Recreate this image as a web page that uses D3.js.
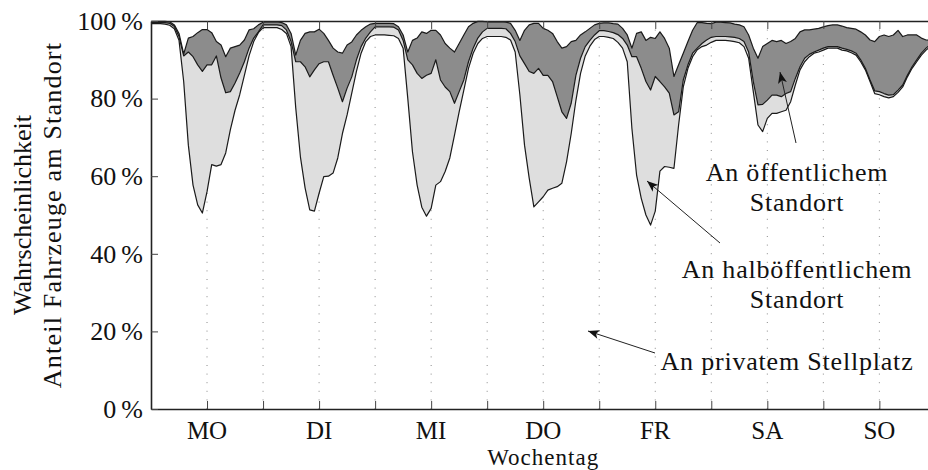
<!DOCTYPE html>
<html><head><meta charset="utf-8">
<script src="https://cdn.jsdelivr.net/npm/d3@7"></script>
<style>
html,body{margin:0;padding:0;background:#fff;}
svg{display:block;}
text{font-family:"Liberation Serif","Times New Roman",serif;fill:#111;}
</style></head><body>
<svg id="chart" width="928" height="470"></svg>
<script>
// Wochentage (Beschriftung jeweils 12 Uhr)
const tage = ["MO","DI","MI","DO","FR","SA","SO"];
const yTickWerte = [0,20,40,60,80,100];
// Stunde der Woche 0..168
const stunden = d3.range(0,169);
// kumulierte Anteile in % (Obergrenze der jeweiligen Schicht)
const privat = [
 99.3,99.3,99.3,99.2,98.9,98,95,84.4,68,57.7,52.6,50.5,56,63,62.6,63,66,72,77,81,86,91,94.7,97,98.3,
 98.3,98.3,98.3,97.8,96.8,93.4,77.6,65,57,51.3,51,55.6,59.9,60,60.8,64.7,71,75.8,81.4,87,91.7,94.7,96,96.4,
 96.4,96.4,96.3,96.2,95.5,93,80,66.3,57.7,52,49.7,51.7,57.7,58.6,61.2,64.7,70.6,76.6,82.2,87.8,91.7,94.2,95.5,96,
 96,96,96,95.8,95.1,92,81,68,59.5,52.1,53.4,54.7,56.4,56.9,57.3,58.2,63.7,71,79.5,86.5,91,93.5,95.2,96,
 96,95.8,95.5,94.5,93,89.5,72.3,60.3,54.3,50,47.4,51,61.3,62.5,62.3,62,73.2,83,87.8,90.8,92.6,93.4,93.8,94.5,
 95,95,95,94.9,94.7,94.4,93.4,90.4,81.8,73.2,71.5,74.9,76.2,76.2,76.6,77,79.2,83.5,87.4,89.5,90.8,91.7,92,92.5,
 93,93,93,92.5,92.3,91.8,91.2,89.5,87.4,84.4,81.3,81,80.5,80.2,80.5,81.6,83,85.6,87.8,89.5,91.2,92.5,93.5,94
];
const halboeffentlich = [
 99.6,99.6,99.6,99.6,99.4,98.6,96,91,92,90.8,88.7,87,88.7,88.7,91,85.3,81.5,81.8,84,86.6,89.5,93,95.6,97.2,99,
 99,99,99,98.8,97.7,94.7,89.5,89.5,88.2,85.6,87.4,89,89.5,89.5,86,82.7,79.2,82.7,85.6,90,93.4,95.6,97.2,98.5,
 98.5,98.5,98.5,98.4,97.7,95,90,88.7,86.5,85.2,86,86.5,90,84.8,83,81.8,78.8,81.8,84.8,89.5,93,95.6,97.2,98.1,
 98.1,98.1,98.1,98,96.8,94.7,91,89,87,86.5,87.8,86,86,84.4,80.5,76.6,74.9,78.8,86,90.4,93.4,95,96.4,97.5,
 97.5,97.3,97,96.5,95.5,93.8,90.8,90.8,87.8,84.4,82.2,85.7,84.4,83,81.4,75.8,76.6,84.8,88.7,91.7,93,94.2,95.1,95.8,
 96,96,96,95.9,95.8,95.5,94.7,92,84.4,78.4,78.5,79.6,80.9,80.9,80.5,81.3,81.8,85.2,88.2,90.4,91.4,92,92.5,93,
 93.4,93.4,93.4,93,92.7,92.3,91.7,90,87.8,84.8,82,81.8,81.3,80.9,81,82.2,83.5,86,88.2,90,91.7,93,94,94.5
];
const oeffentlich = [
 99.9,99.9,99.9,99.9,99.8,99,96.8,91.5,95.6,96,97,97.8,97.8,97,94.7,93.8,90.8,93,93.4,93.8,95.1,97.7,98,99,99.7,
 99.8,99.8,99.8,99.6,99,96.8,91.2,95,96.8,97.2,97.2,97.9,96.8,95,93,92,91.7,93.8,94.6,96.4,97.6,98.5,99.2,99.4,
 99.4,99.4,99.4,99.3,98.5,96.4,92,95,95.6,97.2,96.8,97.6,97.6,96.4,94.2,93,92,94.2,96.4,98.5,99.4,99.9,99.9,99.8,
 99.8,99.8,99.8,99.7,99.4,97.6,95,97.6,99,99.4,99.4,98.1,97.6,96.8,94.7,93,93.4,94.7,95,96.4,97.2,98.1,99,99.4,
 99.5,99.5,99.3,99.2,98.1,96.4,93,96.8,97.2,95,95.8,95.5,97.2,95.5,93,85.7,88.7,91.7,94.7,97.6,99.6,99.6,99.4,99.3,
 99.7,99.7,99.6,99.5,99.2,99,98.5,96.4,93,90.4,93.4,94.2,95,94.7,95,94.2,94.7,95.5,97.2,97.7,97.7,97.9,98.1,98.5,
 98.8,99,99,98.7,98.3,98.1,97.9,97.2,96.4,95.1,94.7,96,96.4,96,96.4,97.6,96,96.4,96.4,96.4,95.6,95.1,95,95
];

const svg = d3.select("#chart");
const x = d3.scaleLinear().domain([0,168]).range([151,935.4]);
const y = d3.scaleLinear().domain([0,100]).range([409,21]);
const tagScale = d3.scaleBand().domain(tage).range([151,935.4]);

const daten = stunden.map((h,i)=>({h, p:privat[i], hb:halboeffentlich[i], oe:oeffentlich[i]}));

// Raster (gepunktet, alle 12 Stunden)
svg.append("g").selectAll("line").data(d3.range(12,168,12)).join("line")
  .attr("x1",d=>x(d)).attr("x2",d=>x(d)).attr("y1",y(0)).attr("y2",y(100))
  .attr("stroke","#8a8a8a").attr("stroke-width",1).attr("stroke-dasharray","1,7.6");

// Flächen
svg.append("path").datum(daten)
  .attr("d",d3.area().x(d=>x(d.h)).y0(d=>y(d.p)).y1(d=>y(d.hb)))
  .attr("fill","#dedede");
svg.append("path").datum(daten)
  .attr("d",d3.area().x(d=>x(d.h)).y0(d=>y(d.hb)).y1(d=>y(d.oe)))
  .attr("fill","#8c8c8c");
["p","hb","oe"].forEach(k=>{
  svg.append("path").datum(daten)
    .attr("d",d3.line().x(d=>x(d.h)).y(d=>y(d[k])))
    .attr("fill","none").attr("stroke","#1a1a1a").attr("stroke-width",1.2).attr("stroke-linejoin","round");
});

// Achsen
const stundenTicks = d3.range(0,169,12);
const ax = svg.append("g");
ax.append("g").attr("transform",`translate(0,${y(0)})`)
  .call(d3.axisBottom(x).tickValues(stundenTicks).tickSize(-8).tickSizeOuter(0).tickFormat(""));
ax.append("g").attr("transform",`translate(0,${y(100)})`)
  .call(d3.axisTop(x).tickValues(stundenTicks).tickSize(-8).tickSizeOuter(0).tickFormat(""));
ax.append("g").attr("transform",`translate(${x(0)},0)`)
  .call(d3.axisLeft(y).tickValues(yTickWerte).tickSize(-7).tickSizeOuter(0).tickPadding(8)
    .tickFormat(d=>d+"\u2009%"));
ax.append("g").attr("transform",`translate(${x(168)},0)`)
  .call(d3.axisRight(y).tickValues(yTickWerte).tickSize(-7).tickSizeOuter(0).tickFormat(""));
ax.selectAll(".domain").attr("stroke","#222").attr("stroke-width",1.6);
ax.selectAll(".tick line").attr("stroke","#444").attr("stroke-width",1);
ax.selectAll(".tick text").attr("font-size",26).attr("font-family","Liberation Serif").attr("fill","#111");

// Tag-Beschriftungen
const tg = svg.append("g").attr("transform",`translate(0,${y(0)})`)
  .call(d3.axisBottom(tagScale).tickSize(0).tickPadding(0));
tg.select(".domain").remove();
tg.selectAll("text").attr("y",30).attr("dy",0).attr("font-size",25).attr("font-family","Liberation Serif").attr("fill","#111");

svg.append("text").attr("x",(x(0)+x(168))/2).attr("y",465).attr("text-anchor","middle")
  .attr("font-size",23).attr("letter-spacing",1).text("Wochentag");

// y-Titel
const yt = svg.append("text").attr("transform",`translate(0,${(y(0)+y(100))/2}) rotate(-90)`)
  .attr("text-anchor","middle").attr("font-size",26);
yt.append("tspan").attr("x",0).attr("y",31).text("Wahrscheinlichkeit");
yt.append("tspan").attr("x",0).attr("y",61).attr("letter-spacing",1.2).text("Anteil Fahrzeuge am Standort");

// Pfeile
svg.append("defs").append("marker").attr("id","pfeil").attr("viewBox","0 0 10 8")
  .attr("refX",10).attr("refY",4).attr("markerWidth",12).attr("markerHeight",9)
  .attr("markerUnits","userSpaceOnUse").attr("orient","auto")
  .append("path").attr("d","M0,0 L10,4 L0,8 L2.5,4 Z").attr("fill","#111");

const anmerkungen = [
  {zeilen:["An öffentlichem","Standort"], tx:797, ty:181, von:[796,143], nach:[780,72]},
  {zeilen:["An halböffentlichem","Standort"], tx:797, ty:278, von:[720,243], nach:[647,181]},
  {zeilen:["An privatem Stellplatz"], tx:787, ty:370, von:[655,353], nach:[588,331]}
];
anmerkungen.forEach(a=>{
  svg.append("line").attr("x1",a.von[0]).attr("y1",a.von[1]).attr("x2",a.nach[0]).attr("y2",a.nach[1])
    .attr("stroke","#222").attr("stroke-width",1).attr("marker-end","url(#pfeil)");
  const t = svg.append("text").attr("text-anchor","middle").attr("font-size",26).attr("letter-spacing",0.8);
  a.zeilen.forEach((z,i)=>t.append("tspan").attr("x",a.tx).attr("y",a.ty+i*30).text(z));
});
</script>
</body></html>
